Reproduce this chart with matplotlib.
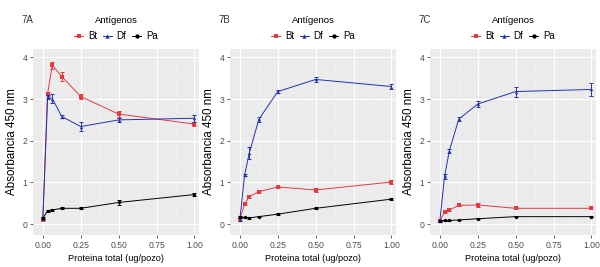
import numpy as np
import matplotlib
matplotlib.use("Agg")
import matplotlib.pyplot as plt

plt.rcParams['font.family'] = ['Liberation Sans', 'DejaVu Sans']

# Proteina total (ug/pozo)
x = [0, 0.03125, 0.0625, 0.125, 0.25, 0.5, 1.0]

panels = ["7A", "7B", "7C"]
series = ["Bt", "Df", "Pa"]

# Panel 7A
a_bt = [0.10, 3.13, 3.81, 3.54, 3.06, 2.64, 2.40]
a_bt_err = [0.03, 0.05, 0.09, 0.10, 0.05, 0.07, 0.04]
a_df = [0.14, 3.04, 3.01, 2.58, 2.34, 2.50, 2.54]
a_df_err = [0.03, 0.05, 0.10, 0.03, 0.10, 0.05, 0.08]
a_pa = [0.14, 0.32, 0.34, 0.38, 0.38, 0.52, 0.71]
a_pa_err = [0.02, 0.02, 0.02, 0.02, 0.02, 0.06, 0.04]

# Panel 7B
b_bt = [0.12, 0.48, 0.66, 0.78, 0.89, 0.82, 1.01]
b_bt_err = [0.03, 0.03, 0.03, 0.03, 0.03, 0.05, 0.04]
b_df = [0.11, 1.18, 1.71, 2.51, 3.18, 3.47, 3.30]
b_df_err = [0.03, 0.03, 0.15, 0.07, 0.03, 0.05, 0.06]
b_pa = [0.17, 0.16, 0.15, 0.18, 0.24, 0.38, 0.60]
b_pa_err = [0.02, 0.02, 0.02, 0.02, 0.02, 0.02, 0.02]

# Panel 7C
c_bt = [0.08, 0.28, 0.34, 0.45, 0.46, 0.38, 0.38]
c_bt_err = [0.02, 0.02, 0.02, 0.02, 0.04, 0.02, 0.02]
c_df = [0.08, 1.15, 1.76, 2.52, 2.88, 3.18, 3.23]
c_df_err = [0.02, 0.06, 0.05, 0.04, 0.07, 0.12, 0.15]
c_pa = [0.08, 0.09, 0.09, 0.10, 0.13, 0.18, 0.18]
c_pa_err = [0.01, 0.01, 0.01, 0.01, 0.01, 0.01, 0.01]

data = [
    [(a_bt, a_bt_err), (a_df, a_df_err), (a_pa, a_pa_err)],
    [(b_bt, b_bt_err), (b_df, b_df_err), (b_pa, b_pa_err)],
    [(c_bt, c_bt_err), (c_df, c_df_err), (c_pa, c_pa_err)],
]

colors = ["#E53A3F", "#2233B0", "#000000"]
markers = ["s", "^", "o"]

fig = plt.figure(figsize=(6, 2.67), dpi=100)

lefts = [33, 230, 430]
for i, left in enumerate(lefts):
    ax = fig.add_axes([left / 600, 32 / 267, 166 / 600, 186 / 267])
    ax.set_facecolor("#EBEBEB")
    handles = []
    for (y, err), col, mk, name in zip(data[i], colors, markers, series):
        ax.errorbar(x, y, yerr=err, fmt="none", ecolor=col,
                    elinewidth=0.7, capsize=1.5, capthick=0.7)
        ln, = ax.plot(x, y, color=col, marker=mk, markersize=2.4,
                      markeredgewidth=0, linewidth=0.7, label=name)
        handles.append(ln)
    ax.set_xlim(-0.065, 1.03)
    ax.set_ylim(-0.26, 4.2)
    ax.set_xticks([0, 0.25, 0.5, 0.75, 1.0])
    ax.set_xticklabels(["0.00", "0.25", "0.50", "0.75", "1.00"])
    ax.set_yticks([0, 1, 2, 3, 4])
    ax.set_xticks([0.125, 0.375, 0.625, 0.875], minor=True)
    ax.set_yticks([0.5, 1.5, 2.5, 3.5], minor=True)
    ax.grid(which="major", color="white", linewidth=0.8)
    ax.grid(which="minor", color="#F5F5F5", linewidth=0.4)
    ax.set_axisbelow(True)
    for s in ax.spines.values():
        s.set_visible(False)
    ax.tick_params(which="major", length=2.5, width=0.6, color="#4D4D4D",
                   labelsize=6.2, labelcolor="#4D4D4D", pad=1.5)
    ax.tick_params(which="minor", length=0)
    ax.set_xlabel("Proteina total (ug/pozo)", fontsize=6.6, labelpad=3)
    ax.set_ylabel("Absorbancia 450 nm", fontsize=8.4)
    ax.yaxis.set_label_coords(-15 / 166, 0.5)
    ax.text(-0.07, 1.155, panels[i], transform=ax.transAxes, fontsize=7,
            color="#333333", ha="left", va="center")
    leg = ax.legend(handles=handles, loc="lower center",
                    bbox_to_anchor=(0.5, 1.0), ncol=3, title="Antígenos",
                    frameon=False, fontsize=7, title_fontsize=6.8,
                    handlelength=0.9, handletextpad=0.5, columnspacing=0.6,
                    borderpad=0.3, labelspacing=0.6, markerscale=1.3)

fig.savefig("out.png", dpi=100)
